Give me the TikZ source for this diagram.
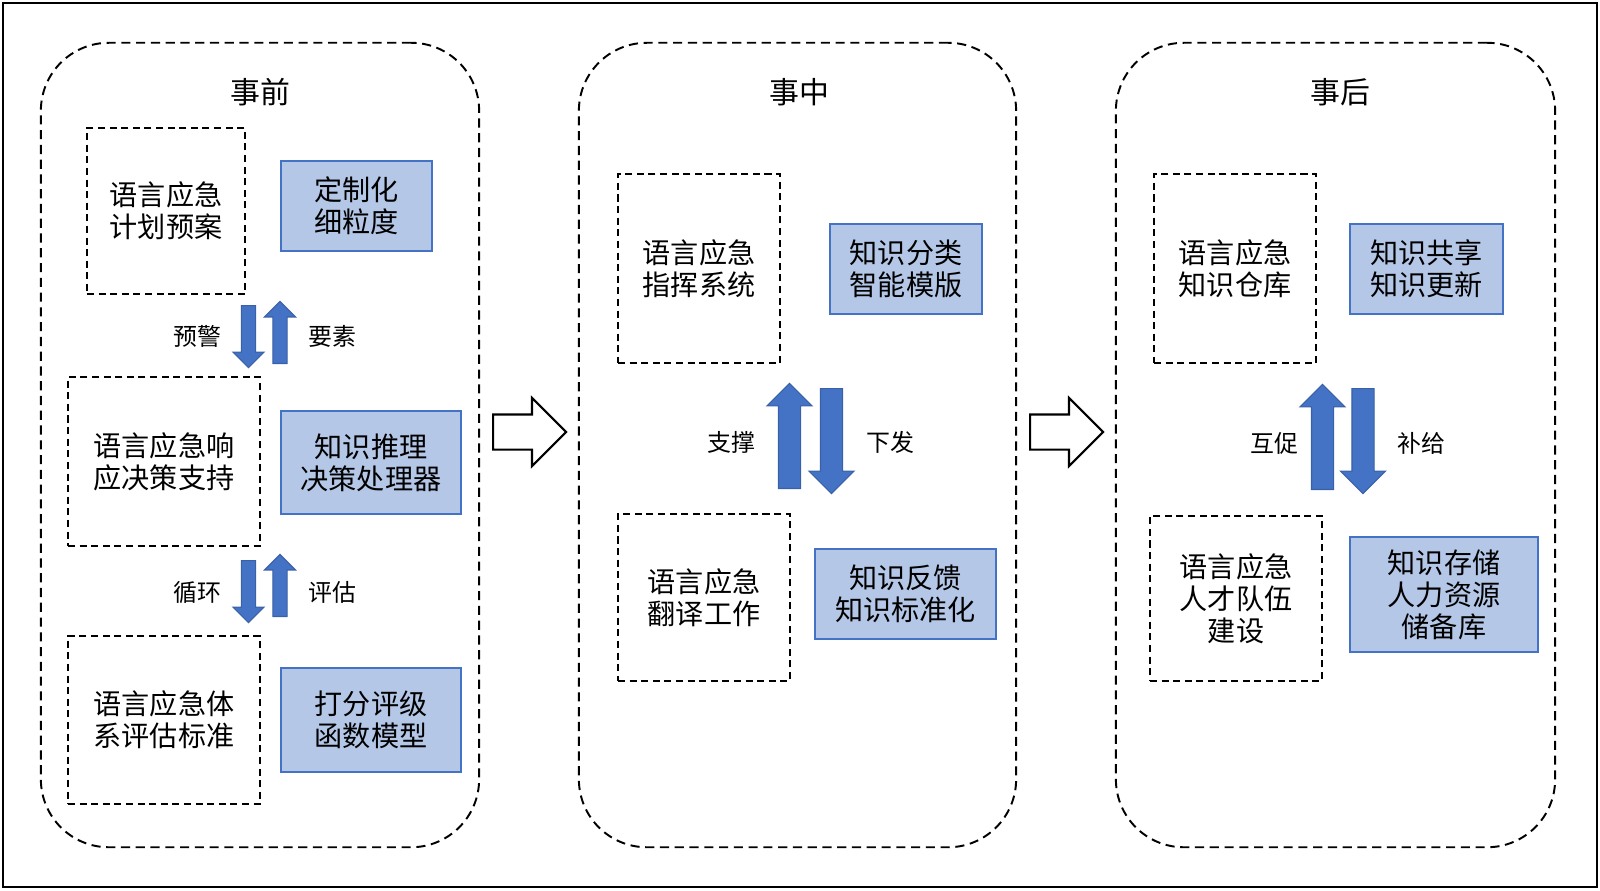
\documentclass[tikz,border=0pt]{standalone}
\usepackage{fontspec}
\newfontfamily\cjk{Noto Sans CJK SC}
\usetikzlibrary{shapes.arrows}
\definecolor{boxblue}{HTML}{B4C7E7}
\definecolor{lineblue}{HTML}{4472C4}
\definecolor{arrowblue}{HTML}{4472C4}
\tikzset{stagebox/.style = {draw, dash pattern=on 2.6pt off 1.6pt, line width=0.55pt, rounded corners=0.68cm, inner sep=0}}
\tikzset{stagetitle/.style = {inner sep=0, font=\cjk\fontsize{8.5pt}{10pt}\selectfont}}
\tikzset{planbox/.style = {draw, dash pattern=on 2pt off 1.3pt, line width=0.55pt, align=center, inner sep=0, font=\cjk\fontsize{8pt}{9.1pt}\selectfont}}
\tikzset{toolbox/.style = {draw=lineblue, fill=boxblue, line width=0.6pt, align=center, inner sep=0, font=\cjk\fontsize{8pt}{9.1pt}\selectfont}}
\tikzset{flowarrow/.style = {single arrow, anchor=tail, fill=arrowblue, draw=arrowblue!85!black, line width=0.3pt, inner xsep=0, single arrow tip angle=90}}
\tikzset{thinflow/.style = {flowarrow, inner ysep=0.065cm, single arrow head extend=0.085cm, minimum height=0.62cm}}
\tikzset{wideflow/.style = {flowarrow, inner ysep=0.105cm, single arrow head extend=0.115cm, minimum height=1.05cm}}
\tikzset{stagearrow/.style = {single arrow, anchor=tail, draw, fill=white, line width=0.6pt, inner xsep=0, inner ysep=0.165cm, single arrow head extend=0.165cm, minimum height=0.73cm, single arrow tip angle=90}}
\tikzset{taglabel/.style = {inner sep=0, font=\cjk\fontsize{6.8pt}{8pt}\selectfont}}

\begin{document}
\begin{tikzpicture}[x=0.01cm, y=-0.01cm]
  \useasboundingbox (0,0) rectangle (1600,890);
  \draw [line width=0.6pt] (3,3) rectangle (1597,887);

  % stages
  \node [stagebox, minimum width=4.38cm, minimum height=8.04cm] (before) at (260,445) {};
  \node [stagebox, minimum width=4.37cm, minimum height=8.04cm] (during) at (797.5,445) {};
  \node [stagebox, minimum width=4.39cm, minimum height=8.04cm] (after) at (1335.5,445) {};
  \node [stagetitle] (beforetitle) at (260,92) {事前};
  \node [stagetitle] (duringtitle) at (799,92) {事中};
  \node [stagetitle] (aftertitle) at (1340,92) {事后};
  \node [stagearrow] (next1) at (492,432) {};
  \node [stagearrow] (next2) at (1029,432) {};

  % before
  \node [planbox, minimum width=1.58cm, minimum height=1.66cm] (plan) at (166,211) {语言应急\\计划预案};
  \node [toolbox, minimum width=1.51cm, minimum height=0.90cm] (custom) at (356.5,206) {定制化\\细粒度};
  \node [planbox, minimum width=1.92cm, minimum height=1.69cm] (respond) at (164,461.5) {语言应急响\\应决策支持};
  \node [toolbox, minimum width=1.80cm, minimum height=1.03cm] (reason) at (371,462.5) {知识推理\\决策处理器};
  \node [planbox, minimum width=1.92cm, minimum height=1.68cm] (assess) at (164,720) {语言应急体\\系评估标准};
  \node [toolbox, minimum width=1.80cm, minimum height=1.04cm] (score) at (371,720) {打分评级\\函数模型};
  \node [thinflow, rotate=-90] (warn) at (248.5,305) {};
  \node [thinflow, rotate=90] (element) at (280,364) {};
  \node [thinflow, rotate=-90] (cycle) at (248.5,560) {};
  \node [thinflow, rotate=90] (evaluate) at (280,617) {};
  \node [taglabel] (warnlabel) at (197,336) {预警};
  \node [taglabel] (elementlabel) at (332,336) {要素};
  \node [taglabel] (cyclelabel) at (197,592) {循环};
  \node [taglabel] (evaluatelabel) at (332,592) {评估};

  % during
  \node [planbox, minimum width=1.62cm, minimum height=1.89cm] (command) at (699,268.5) {语言应急\\指挥系统};
  \node [toolbox, minimum width=1.52cm, minimum height=0.90cm] (classify) at (906,269) {知识分类\\智能模版};
  \node [planbox, minimum width=1.72cm, minimum height=1.67cm] (translate) at (704,597.5) {语言应急\\翻译工作};
  \node [toolbox, minimum width=1.81cm, minimum height=0.90cm] (feedback) at (905.5,594) {知识反馈\\知识标准化};
  \node [wideflow, rotate=90] (support) at (789.5,489) {};
  \node [wideflow, rotate=-90] (issue) at (831.5,388) {};
  \node [taglabel] (supportlabel) at (731,442) {支撑};
  \node [taglabel] (issuelabel) at (890,442) {下发};

  % after
  \node [planbox, minimum width=1.62cm, minimum height=1.89cm] (store) at (1235,268.5) {语言应急\\知识仓库};
  \node [toolbox, minimum width=1.53cm, minimum height=0.90cm] (share) at (1426.5,269) {知识共享\\知识更新};
  \node [planbox, minimum width=1.72cm, minimum height=1.65cm] (talent) at (1236,598.5) {语言应急\\人才队伍\\建设};
  \node [toolbox, minimum width=1.88cm, minimum height=1.15cm] (reserve) at (1444,594.5) {知识存储\\人力资源\\储备库};
  \node [wideflow, rotate=90] (promote) at (1322.5,490) {};
  \node [wideflow, rotate=-90] (supply) at (1363,388) {};
  \node [taglabel] (promotelabel) at (1274,443) {互促};
  \node [taglabel] (supplylabel) at (1421,443) {补给};
\end{tikzpicture}
\end{document}
